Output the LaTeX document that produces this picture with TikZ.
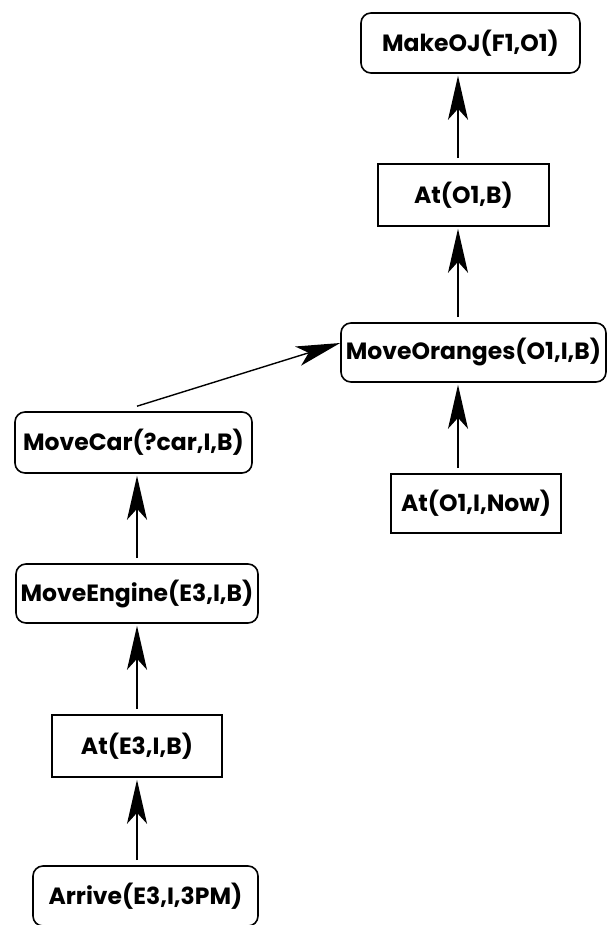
\documentclass[tikz,border=0pt]{standalone}
\usepackage{fontspec}
\setmainfont{Poppins}
\usetikzlibrary{arrows.meta,calc}
\begin{document}
\begin{tikzpicture}[x=1pt,y=-1pt,
  lbl/.style={font=\fontsize{23.5}{26}\selectfont\bfseries, inner sep=0pt, draw, line width=1.6pt},
  stepbox/.style={lbl, rectangle},
  actbox/.style={lbl, rounded corners=10pt},
  link/.style={line width=1.4pt, -{Stealth[length=44pt,width=20pt,inset=11pt]},
               shorten <=5pt, shorten >=2pt}]
\useasboundingbox (0,0) rectangle (608,925);
\fill[white] (0,0) rectangle (608,925);

% columns of the vertical connectors
\coordinate (rcol) at (458,0);
\coordinate (lcol) at (137,0);

% right-hand chain
\node[actbox, minimum width=219pt, minimum height=60pt] (makeoj) at (470.5,43) {MakeOJ(F1,O1)};
\node[stepbox, minimum width=171pt, minimum height=62pt] (atob) at (463.5,195) {At(O1,B)};
\node[actbox, minimum width=265pt, minimum height=59pt] (moveor) at (473.5,352.5) {MoveOranges(O1,I,B)};
\node[stepbox, minimum width=170pt, minimum height=59pt] (atnow) at (476,503.5) {At(O1,I,Now)};

% left-hand chain
\node[actbox, minimum width=237pt, minimum height=61pt] (movecar) at (133.5,442.5) {MoveCar(?car,I,B)};
\node[actbox, minimum width=242pt, minimum height=59pt] (moveeng) at (137,593.5) {MoveEngine(E3,I,B)};
\node[stepbox, minimum width=170pt, minimum height=62pt] (ate) at (137,746) {At(E3,I,B)};
\node[actbox, minimum width=225pt, minimum height=60pt] (arrive) at (145.5,896) {Arrive(E3,I,3PM)};

% connectors
\draw[link] (atob.north -| rcol) -- (makeoj.south -| rcol);
\draw[link] (moveor.north -| rcol) -- (atob.south -| rcol);
\draw[link] (atnow.north -| rcol) -- (moveor.south -| rcol);

\draw[link] (moveeng.north -| lcol) -- (movecar.south -| lcol);
\draw[link] (ate.north -| lcol) -- (moveeng.south -| lcol);
\draw[link] (arrive.north -| lcol) -- (ate.south -| lcol);

\coordinate (ortip) at ($(moveor.west)+(0,-9.5)$);
\draw[link, shorten <=0pt, shorten >=0pt] ($(movecar.north -| lcol)+(0,-5)$) -- (ortip);
\end{tikzpicture}
\end{document}
